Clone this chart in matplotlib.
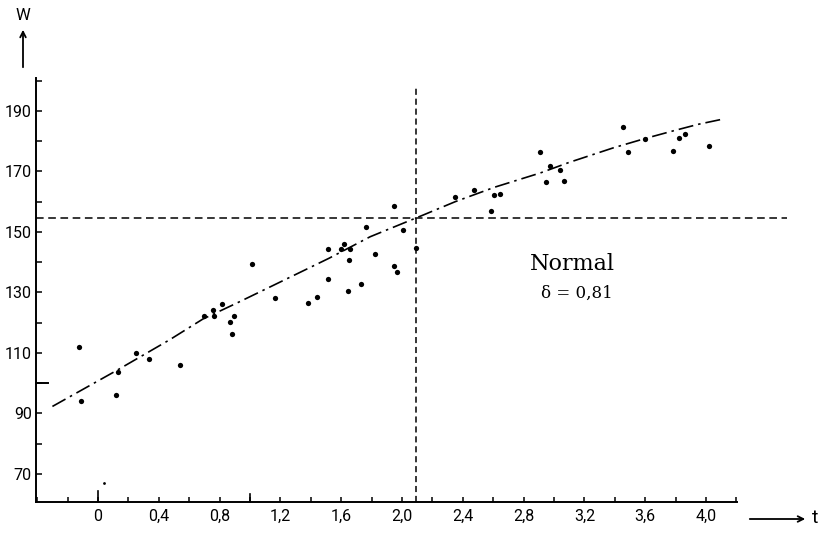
import numpy as np
import matplotlib
matplotlib.use("Agg")
from matplotlib import pyplot as plt
from matplotlib.ticker import MultipleLocator, FixedLocator

plt.rcParams['font.family'] = ['Roboto', 'DejaVu Sans']

# Messpunkte (t, W)
t_pts = [-0.127, -0.112, 0.121, 0.132, 0.248, 0.333, 0.539, 0.695, 0.757, 0.761,
         0.816, 0.866, 0.893, 0.879, 1.015, 1.162, 1.382, 1.439, 1.515, 1.513,
         1.601, 1.621, 1.658, 1.649, 1.647, 1.730, 1.761, 1.825, 1.949, 1.947,
         1.967, 2.009, 2.090, 2.351, 2.472, 2.586, 2.607, 2.647, 2.906, 2.945,
         2.971, 3.042, 3.066, 3.452, 3.487, 3.601, 3.785, 3.820, 3.860, 4.018]
w_pts = [112.1, 94.1, 96.0, 103.6, 110.1, 108.0, 106.0, 122.2, 124.2, 122.2,
         126.3, 120.3, 122.3, 116.2, 139.3, 128.3, 126.4, 128.6, 144.3, 134.5,
         144.4, 146.0, 144.5, 140.7, 130.5, 132.7, 151.6, 142.7, 158.5, 138.8,
         136.6, 150.5, 144.8, 161.6, 163.8, 156.8, 162.3, 162.6, 176.4, 166.5,
         171.8, 170.6, 166.9, 184.6, 176.5, 180.6, 176.9, 180.9, 182.5, 178.4]
# kleiner Punkt unten links
t_speck = [0.041]
w_speck = [66.9]

# Ausgleichskurve
t_curve = [-0.30, 0.13, 0.47, 0.69, 0.91, 1.16, 1.52, 1.79, 2.14, 2.35,
           2.61, 2.91, 3.10, 3.39, 3.60, 3.79, 3.95, 4.11]
w_curve = [92.3, 104.4, 114.3, 121.2, 126.4, 132.5, 141.3, 148.4, 155.6, 160.0,
           164.8, 169.5, 173.0, 177.8, 180.9, 183.5, 185.6, 187.3]

t_cross = 2.09
w_cross = 154.5

x_ticks = [0, 0.4, 0.8, 1.2, 1.6, 2.0, 2.4, 2.8, 3.2, 3.6, 4.0]
x_labels = ["0", "0,4", "0,8", "1,2", "1,6", "2,0", "2,4", "2,8", "3,2", "3,6", "4,0"]
y_ticks = [70, 90, 110, 130, 150, 170, 190]

fig = plt.figure(figsize=(8.21, 5.33), dpi=100)
ax = fig.add_axes([36 / 821, 31 / 533, 701 / 821, 424 / 533])
ax.set_xlim(-0.408, 4.204)
ax.set_ylim(60.7, 200.9)

for s in ['top', 'right']:
    ax.spines[s].set_visible(False)
ax.spines['left'].set_linewidth(1.4)
ax.spines['bottom'].set_linewidth(1.4)

ax.xaxis.set_major_locator(FixedLocator(x_ticks))
ax.set_xticklabels(x_labels)
ax.xaxis.set_minor_locator(MultipleLocator(0.2))
ax.yaxis.set_major_locator(FixedLocator(y_ticks))
ax.yaxis.set_minor_locator(MultipleLocator(10))
ax.tick_params(axis='x', which='both', direction='in', length=3.5, width=1.1,
               labelsize=11.5, pad=5)
ax.tick_params(axis='y', which='both', direction='in', length=4, width=1.1,
               labelsize=11.5, pad=3)

# laengere Striche bei t=0, t=1 und W=100
ax.plot([0, 0], [60.7, 64.5], color='k', lw=1.2, clip_on=False)
ax.plot([1.0, 1.0], [60.7, 63.5], color='k', lw=1.2, clip_on=False)
ax.plot([-0.408, -0.33], [100, 100], color='k', lw=1.4, clip_on=False)

# Hilfslinien
ax.plot([-0.408, 4.53], [w_cross, w_cross], color='k', lw=1.1,
        linestyle=(0, (5, 3)), clip_on=False)
ax.plot([t_cross, t_cross], [60.7, 198.6], color='k', lw=1.1,
        linestyle=(0, (4, 2.5)), clip_on=False)

ax.plot(t_curve, w_curve, color='k', lw=1.2, linestyle=(0, (9, 3, 1.5, 3)))
ax.plot(t_pts, w_pts, 'o', color='k', ms=3.8, mec='none')
ax.plot(t_speck, w_speck, 'o', color='k', ms=2, mec='none')

# Achsenpfeile
ax.annotate('', xy=(23, 506), xytext=(23, 463), xycoords='figure pixels',
            textcoords='figure pixels',
            arrowprops=dict(arrowstyle='->', lw=1.3, color='k'))
fig.text(23 / 821, 518 / 533, 'W', ha='center', va='center', fontsize=12)
ax.annotate('', xy=(808, 14), xytext=(747, 14), xycoords='figure pixels',
            textcoords='figure pixels',
            arrowprops=dict(arrowstyle='->', lw=1.3, color='k'))
fig.text(815 / 821, 15 / 533, 't', ha='center', va='center', fontsize=14)

ax.text(3.12, 139.5, 'Normal', ha='center', va='center', fontsize=16,
        family=['DejaVu Serif'])
ax.text(3.15, 129.8, 'δ = 0,81', ha='center', va='center', fontsize=12,
        family=['DejaVu Serif'])

fig.savefig('out.png', dpi=100)
